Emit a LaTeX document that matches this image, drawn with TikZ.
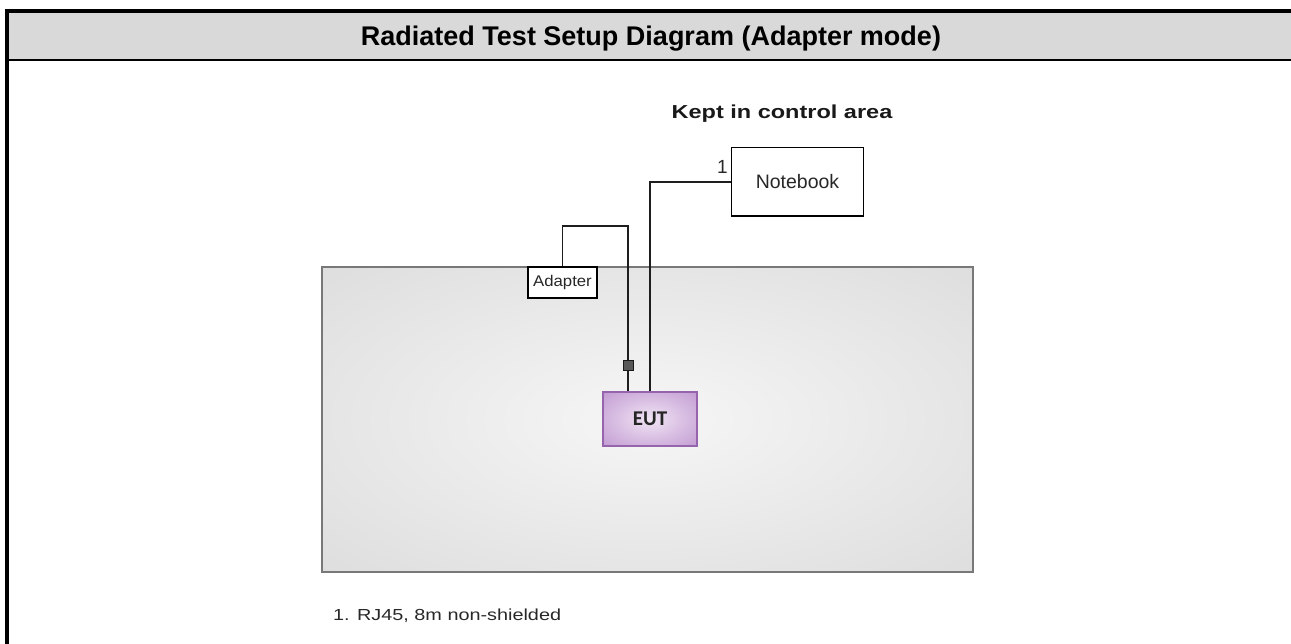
\documentclass[tikz,border=0pt]{standalone}
\usepackage{fontspec}
\setmainfont{Liberation Sans}
\newfontfamily\eutfont{Carlito}
\usetikzlibrary{calc}
\definecolor{headgray}{RGB}{217,217,217}
\definecolor{areain}{RGB}{246,246,246}
\definecolor{areaout}{RGB}{212,212,212}
\definecolor{areacorner}{RGB}{202,202,202}
\definecolor{areaedge}{RGB}{120,120,120}
\definecolor{eutin}{RGB}{240,228,244}
\definecolor{eutout}{RGB}{186,142,204}
\definecolor{eutedge}{RGB}{150,100,172}
\definecolor{wirecol}{RGB}{30,30,30}
\definecolor{textcol}{RGB}{40,40,40}
\pgfdeclareradialshading{areashade}{\pgfpoint{0bp}{0bp}}{color(0bp)=(areain); color(50bp)=(areaout); color(71bp)=(areacorner)}
\pgfdeclareradialshading{eutshade}{\pgfpoint{0bp}{0bp}}{color(0bp)=(eutin); color(42bp)=(eutout); color(71bp)=(eutout)}
\begin{document}
\begin{tikzpicture}[x=1pt,y=-1pt,
  wire/.style={draw=wirecol, line width=1.7pt},
  plainbox/.style={draw=black, line width=1.5pt, fill=white, inner sep=0pt, text=textcol},
  txt/.style={inner sep=0pt, text=textcol}]
\useasboundingbox (0,0) rectangle (1291,644);
\clip (0,0) rectangle (1291,644);
% frame and header
\fill[headgray] (7,11) rectangle (1300,60);
\draw[line width=4pt] (7,660) -- (7,11) -- (1300,11);
\draw[line width=2pt] (7,60) -- (1300,60);
\node[txt, text=black, anchor=base, font=\fontsize{27}{31}\selectfont\bfseries] (title) at (651,45.7) {Radiated Test Setup Diagram (Adapter mode)};
% test area
\path[shading=areashade, draw=areaedge, line width=2pt] (322,267) rectangle (973,572);
\node[txt, text=black!90, anchor=base, font=\fontsize{18.8}{22}\selectfont\bfseries] (kept) at (782,118.3) {\scalebox{1.25}[1]{Kept in control area}};
% nodes
\node[plainbox, minimum width=131.6pt, minimum height=68.3pt, font=\fontsize{19.5}{23}\selectfont] (nb) at (797.5,181.9) {Notebook};
\node[plainbox, minimum width=69pt, minimum height=31pt, font=\fontsize{15.5}{18}\selectfont] (ad) at (562.5,282.5) {\scalebox{1.08}[1]{Adapter}};
\node[draw=eutedge, line width=1.2pt, shading=eutshade, minimum width=94pt, minimum height=54pt, inner sep=0pt, text=black!85, font=\fontsize{21}{24}\selectfont\eutfont\bfseries] (eut) at (650,419) {EUT};
\node[draw=black!90, line width=1pt, fill=black!65, minimum width=10pt, minimum height=10pt, inner sep=0pt] (sq) at (628,366) {};
% connectors
\draw[wire] (ad.north) -- ++(0,-40) -| (sq.north);
\draw[wire] (sq.south) -- (sq.south |- eut.north);
\draw[wire] (eut.north) |- (nb.west);
% labels
\node[txt, anchor=base, font=\fontsize{19}{23}\selectfont] (one) at (722.5,174) {1};
\node[txt, anchor=base west, font=\fontsize{16}{19}\selectfont] (note) at (333,620) {\scalebox{1.24}[1]{1. RJ45, 8m non-shielded}};
\end{tikzpicture}
\end{document}
